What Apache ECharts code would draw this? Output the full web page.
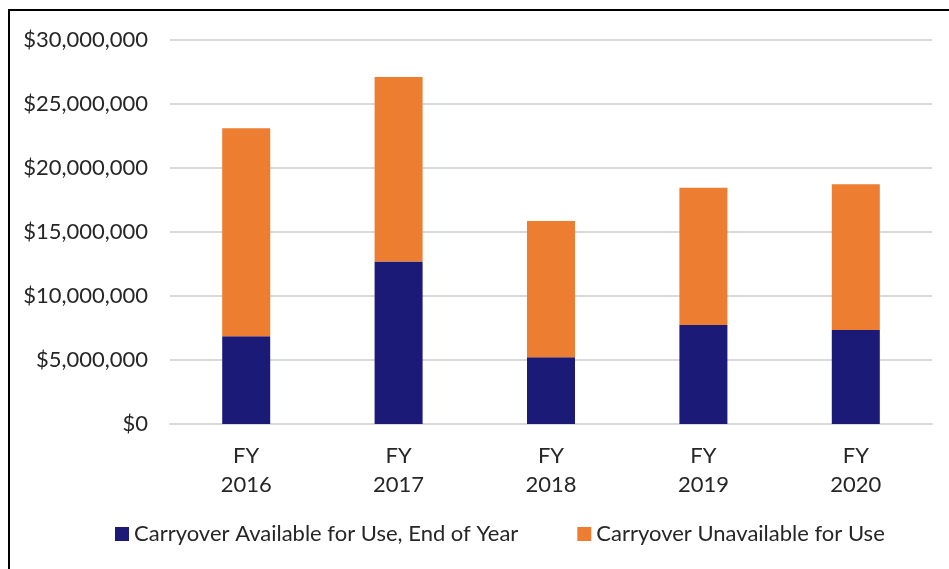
<!DOCTYPE html>
<html>
<head>
<meta charset="utf-8">
<script src="https://cdn.jsdelivr.net/npm/echarts@6/dist/echarts.min.js"></script>
<style>
html,body{margin:0;padding:0;background:#fff;}
#chart{width:949px;height:569px;}
</style>
</head>
<body>
<div id="chart"></div>
<script>
const categories = ['FY\n2016', 'FY\n2017', 'FY\n2018', 'FY\n2019', 'FY\n2020'];
const availableValues = [6860000, 12700000, 5220000, 7740000, 7350000];
const unavailableValues = [16240000, 14400000, 10630000, 10710000, 11380000];
const seriesNames = ['Carryover Available for Use, End of Year', 'Carryover Unavailable for Use'];
const yTicks = { min: 0, max: 30000000, interval: 5000000 };

const FONT = 'Lato';
const chart = echarts.init(document.getElementById('chart'), null, { renderer: 'canvas' });

function money(v) {
  return '$' + v.toLocaleString('en-US');
}

chart.setOption({
  animation: false,
  backgroundColor: '#fff',
  textStyle: { fontFamily: FONT },
  grid: { left: 170, right: 17, top: 40, bottom: 145, containLabel: false },
  legend: {
    bottom: 19,
    left: 110,
    itemWidth: 14,
    itemHeight: 14,
    itemGap: 59,
    icon: 'rect',
    textStyle: { fontFamily: FONT, fontSize: 22, color: '#262626', padding: [0, 0, 0, 0] },
    data: seriesNames
  },
  xAxis: {
    type: 'category',
    data: categories,
    axisLine: { show: true, lineStyle: { color: '#d9d9d9', width: 2 } },
    axisTick: { show: false },
    axisLabel: { fontFamily: FONT, fontSize: 22, color: '#262626', margin: 17, lineHeight: 29 }
  },
  yAxis: {
    type: 'value',
    min: yTicks.min,
    max: yTicks.max,
    interval: yTicks.interval,
    axisLine: { show: false },
    axisTick: { show: false },
    splitLine: { lineStyle: { color: '#d9d9d9', width: 2 } },
    axisLabel: { fontFamily: FONT, fontSize: 22, color: '#262626', margin: 22, formatter: money }
  },
  series: [
    {
      name: seriesNames[0],
      type: 'bar',
      stack: 'total',
      barWidth: '31.5%',
      itemStyle: { color: '#1b1a77' },
      data: availableValues
    },
    {
      name: seriesNames[1],
      type: 'bar',
      stack: 'total',
      barWidth: '31.5%',
      itemStyle: { color: '#ed7d31' },
      data: unavailableValues
    }
  ],
  graphic: [
    { type: 'line', shape: { x1: 8, y1: 10, x2: 949, y2: 10 }, style: { stroke: '#000', lineWidth: 2 } },
    { type: 'line', shape: { x1: 9, y1: 9, x2: 9, y2: 569 }, style: { stroke: '#000', lineWidth: 2 } }
  ]
});
</script>
</body>
</html>
